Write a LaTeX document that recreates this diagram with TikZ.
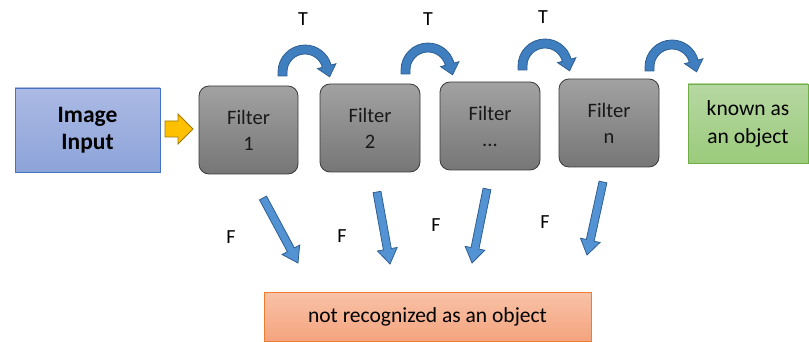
\documentclass[tikz,border=0pt]{standalone}
\usepackage{fontspec}
\setmainfont{Carlito}
\usetikzlibrary{calc}
\definecolor{fgtop}{HTML}{A2A2A2}
\definecolor{fgbot}{HTML}{767676}
\definecolor{fgline}{HTML}{3A3A3A}
\definecolor{imtop}{HTML}{ACBAE4}
\definecolor{imbot}{HTML}{8CA3D9}
\definecolor{imline}{HTML}{4472C4}
\definecolor{kntop}{HTML}{B6D7A2}
\definecolor{knbot}{HTML}{9BCB7C}
\definecolor{knline}{HTML}{70AD47}
\definecolor{nrtop}{HTML}{F8C2A7}
\definecolor{nrbot}{HTML}{F4A47E}
\definecolor{nrline}{HTML}{ED7D31}
\definecolor{yfill}{HTML}{FFC000}
\definecolor{yline}{HTML}{9C7A00}
\definecolor{bfill}{HTML}{5393D3}
\definecolor{bline}{HTML}{2F5F91}
\definecolor{tfill}{HTML}{3F7FC0}
\newcommand\curvarr[3]{%
  \coordinate (#1) at (#2,#3);
  \draw[tstyle] ($(#1)+(-27,4)$) -- ($(#1)+(-27,0)$) arc[start angle=180,end angle=345,radius=27]
    -- ($(#1)+(345:32)$) -- ($(#1)+(345:22.5)+(75:11)$) -- ($(#1)+(345:13)$) -- ($(#1)+(345:18)$)
    arc[start angle=345,end angle=180,radius=18] -- ($(#1)+(-18,4)$) -- cycle;}
\newcommand\farr[3]{% name, tail, tip
  \coordinate (#1a) at #2;
  \coordinate (#1b) at #3;
  \coordinate (#1h) at ($(#1b)!15pt!(#1a)$);
  \draw[fstyle] ($(#1a)!4pt!90:(#1b)$) -- ($(#1h)!4pt!-90:(#1a)$) -- ($(#1h)!10pt!-90:(#1a)$)
    -- (#1b) -- ($(#1h)!10pt!90:(#1a)$) -- ($(#1h)!4pt!90:(#1a)$) -- ($(#1a)!4pt!-90:(#1b)$) -- cycle;}
\begin{document}
\begin{tikzpicture}[x=1pt,y=-1pt,
  filterbox/.style={draw=fgline, line width=0.8pt, rounded corners=10pt, top color=fgtop, bottom color=fgbot,
    minimum width=99pt, minimum height=88pt, align=center, inner sep=0pt,
    font=\fontsize{20.5}{26}\selectfont, text=black!90},
  tstyle/.style={fill=tfill, draw=bline, line width=0.8pt, line join=miter},
  fstyle/.style={fill=bfill, draw=bline, line width=0.8pt},
  lab/.style={font=\fontsize{20}{24}\selectfont, text=black, inner sep=0pt}]
\useasboundingbox (0,0) rectangle (809,342);
% boxes
\node[draw=imline, line width=0.8pt, top color=imtop, bottom color=imbot, minimum width=145pt, minimum height=84pt,
  align=center, inner sep=0pt, font=\fontsize{23.5}{27}\selectfont\bfseries] (img) at (87.5,130) {Image\\Input};
\node[filterbox] (f1) at (248.5,130) {Filter\\1};
\node[filterbox, minimum width=100pt] (f2) at (370,128) {Filter\\2};
\node[filterbox, minimum width=100pt] (f3) at (490,126) {Filter\\...};
\node[filterbox, minimum width=100pt] (f4) at (609,123) {Filter\\n};
\node[draw=knline, line width=0.8pt, top color=kntop, bottom color=knbot, minimum width=120pt, minimum height=79pt,
  align=center, inner sep=0pt, font=\fontsize{21.5}{28}\selectfont] (known) at (748,123.5) {known as\\an object};
\node[draw=nrline, line width=0.8pt, top color=nrtop, bottom color=nrbot, minimum width=327pt, minimum height=49pt,
  inner sep=0pt, font=\fontsize{21.5}{24}\selectfont] (notrec) at (427.5,316.5) {not recognized as an object};
% yellow arrow
\draw[fill=yfill, draw=yline, line width=0.8pt] (165,121) -- (178,121) -- (178,114) -- (193,129) -- (178,144) -- (178,137) -- (165,137) -- cycle;
% T arrows
\curvarr{t1}{305}{72}
\curvarr{t2}{428}{70}
\curvarr{t3}{545}{66}
\curvarr{t4}{672}{67}
\node[lab] (T1) at (303,19) {T};
\node[lab] (T2) at (428,19) {T};
\node[lab] (T3) at (543,17) {T};
% F arrows
\farr{fa}{(263,198)}{(298,263)}
\farr{fb}{(377,192)}{(390,264)}
\farr{fc}{(487,189)}{(472,263)}
\farr{fd}{(603,182)}{(587,255)}
\node[lab] (F1) at (231,237) {F};
\node[lab] (F2) at (342,236) {F};
\node[lab] (F3) at (436,225) {F};
\node[lab] (F4) at (545,222) {F};
\end{tikzpicture}
\end{document}
